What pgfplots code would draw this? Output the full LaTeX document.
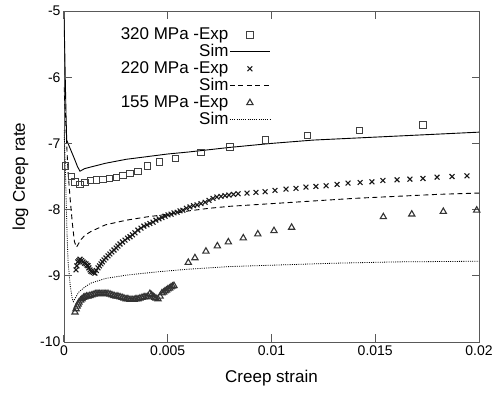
\documentclass[border=0pt]{standalone}
\usepackage{fontspec}
\setmainfont{Liberation Sans}
\usepackage{pgfplots}
\pgfplotsset{compat=1.18}
\begin{document}
\begin{tikzpicture}
\begin{axis}[
  scale only axis, width=415pt, height=331pt,
  xmin=0, xmax=0.02, ymin=-10, ymax=-5,
  scaled x ticks=false,
  xtick={0,0.005,0.01,0.015,0.02},
  xticklabels={0,0.005,0.01,0.015,0.02},
  ytick={-10,-9,-8,-7,-6,-5},
  yticklabels={-10,-9,-8,-7,-6,-5},
  tick align=inside, xtick pos=both, ytick pos=both,
  major tick length=7.5pt,
  axis line style={black!65, line width=0.8pt},
  every tick/.style={black!65, line width=1pt},
  ticklabel style={font=\fontsize{14}{14}\selectfont},
  xlabel={Creep strain}, ylabel={log Creep rate},
  label style={font=\fontsize{17}{17}\selectfont},
  xlabel style={yshift=-8pt},
  ylabel style={yshift=5pt},
  legend plot pos=right,
  legend image code/.code={\draw[mark repeat=2,mark phase=2,#1] plot coordinates {(0pt,0pt)(20pt,0pt)(40pt,0pt)};},
  legend style={at={(0.505,0.962)}, anchor=north east, draw=none, fill=none,
    font=\fontsize{17}{17}\selectfont, row sep=-1pt,
    nodes={inner sep=1pt, text height=12.5pt, text depth=3.5pt},
    cells={anchor=east}},
]
\addplot[only marks, mark=square, mark size=3.2pt, mark options={draw=black!75, line width=0.8pt}] coordinates {
(0.00006,-7.34)(0.00035,-7.50)(0.00052,-7.58)(0.00076,-7.62)(0.00100,-7.59)(0.00127,-7.56)(0.00156,-7.55)(0.00188,-7.54)(0.00220,-7.53)(0.00252,-7.51)(0.00284,-7.48)(0.00317,-7.45)(0.00357,-7.42)(0.00401,-7.34)(0.00461,-7.28)(0.00536,-7.23)(0.00659,-7.14)(0.00800,-7.05)(0.00972,-6.95)(0.01174,-6.88)(0.01423,-6.80)(0.01729,-6.72)};
\addlegendentry{320 MPa -Exp}
\addplot[black, line width=0.9pt] coordinates {
(0,-5.1)(0.00003,-5.5)(0.00006,-6.0)(0.0001,-6.6)(0.00013,-6.95)(0.0003,-7.08)(0.0005,-7.23)(0.00065,-7.35)(0.00077,-7.42)(0.001,-7.38)(0.002,-7.30)(0.003,-7.24)(0.004,-7.20)(0.005,-7.16)(0.006,-7.13)(0.008,-7.06)(0.01,-7.00)(0.012,-6.95)(0.014,-6.92)(0.016,-6.89)(0.018,-6.86)(0.02,-6.83)};
\addlegendentry{Sim}
\addplot[only marks, mark=x, mark size=3.4pt, mark options={draw=black!90, line width=1.1pt}] coordinates {
(0.00058,-8.91)(0.00062,-8.85)(0.00067,-8.79)(0.00072,-8.77)(0.00077,-8.75)(0.00085,-8.77)(0.00092,-8.79)(0.00099,-8.81)(0.00106,-8.82)(0.00111,-8.84)(0.00116,-8.85)(0.00120,-8.88)(0.00125,-8.91)(0.00130,-8.93)(0.00135,-8.94)(0.00142,-8.95)(0.00149,-8.96)(0.00156,-8.92)(0.00164,-8.88)(0.00171,-8.85)(0.00178,-8.82)(0.00185,-8.79)(0.00193,-8.76)(0.00202,-8.73)(0.00212,-8.70)(0.00221,-8.67)(0.00231,-8.64)(0.00241,-8.61)(0.00251,-8.58)(0.00260,-8.55)(0.00270,-8.52)(0.00282,-8.49)(0.00294,-8.46)(0.00306,-8.43)(0.00318,-8.41)(0.00330,-8.38)(0.00342,-8.35)(0.00356,-8.31)(0.00371,-8.28)(0.00385,-8.25)(0.00400,-8.23)(0.00414,-8.21)(0.00429,-8.19)(0.00443,-8.16)(0.00458,-8.14)(0.00472,-8.12)(0.00487,-8.10)(0.00501,-8.08)(0.00516,-8.07)(0.00530,-8.05)(0.00545,-8.04)(0.00559,-8.02)(0.00573,-8.01)(0.00590,-7.98)(0.00607,-7.96)(0.00624,-7.94)(0.00641,-7.93)(0.00660,-7.91)(0.00680,-7.89)(0.00699,-7.86)(0.00718,-7.83)(0.00737,-7.81)(0.00757,-7.80)(0.00776,-7.79)(0.00795,-7.78)(0.00817,-7.77)(0.00839,-7.76)(0.00882,-7.75)(0.00925,-7.74)(0.00969,-7.73)(0.01017,-7.71)(0.01070,-7.69)(0.01118,-7.68)(0.01166,-7.66)(0.01214,-7.65)(0.01263,-7.64)(0.01316,-7.62)(0.01369,-7.60)(0.01427,-7.59)(0.01484,-7.58)(0.01537,-7.56)(0.01605,-7.55)(0.01667,-7.54)(0.01730,-7.53)(0.01798,-7.51)(0.01870,-7.50)(0.01942,-7.49)};
\addlegendentry{220 MPa -Exp}
\addplot[black, line width=0.9pt, dash pattern=on 5pt off 3.5pt] coordinates {
(0,-6.15)(0.00005,-6.45)(0.0001,-6.8)(0.00015,-7.15)(0.0002,-7.45)(0.0003,-7.85)(0.0004,-8.2)(0.0005,-8.48)(0.0006,-8.57)(0.0008,-8.46)(0.001,-8.39)(0.0013,-8.33)(0.002,-8.23)(0.003,-8.16)(0.004,-8.11)(0.005,-8.07)(0.006,-8.02)(0.007,-7.98)(0.008,-7.95)(0.01,-7.91)(0.012,-7.87)(0.014,-7.83)(0.016,-7.80)(0.018,-7.77)(0.02,-7.75)};
\addlegendentry{Sim}
\addplot[only marks, mark=triangle, mark size=3.6pt, mark options={draw=black!80, line width=1.1pt}] coordinates {
(0.00053,-9.55)(0.00058,-9.50)(0.00063,-9.46)(0.00068,-9.43)(0.00072,-9.40)(0.00080,-9.37)(0.00087,-9.35)(0.00094,-9.33)(0.00101,-9.32)(0.00109,-9.31)(0.00116,-9.31)(0.00125,-9.30)(0.00135,-9.29)(0.00145,-9.28)(0.00154,-9.27)(0.00164,-9.27)(0.00173,-9.27)(0.00183,-9.27)(0.00193,-9.27)(0.00202,-9.27)(0.00212,-9.27)(0.00222,-9.28)(0.00231,-9.29)(0.00241,-9.30)(0.00251,-9.31)(0.00260,-9.31)(0.00270,-9.32)(0.00280,-9.33)(0.00289,-9.34)(0.00299,-9.35)(0.00308,-9.35)(0.00318,-9.36)(0.00328,-9.36)(0.00338,-9.36)(0.00347,-9.35)(0.00357,-9.35)(0.00366,-9.34)(0.00376,-9.33)(0.00386,-9.32)(0.00395,-9.32)(0.00405,-9.31)(0.00414,-9.27)(0.00422,-9.29)(0.00429,-9.31)(0.00436,-9.33)(0.00443,-9.34)(0.00453,-9.35)(0.00463,-9.31)(0.00472,-9.26)(0.00480,-9.25)(0.00487,-9.23)(0.00494,-9.22)(0.00501,-9.20)(0.00509,-9.19)(0.00516,-9.17)(0.00523,-9.16)(0.00530,-9.15)
(0.00599,-8.80)(0.00631,-8.73)(0.00684,-8.63)(0.00739,-8.55)(0.00792,-8.49)(0.00864,-8.43)(0.00934,-8.37)(0.01012,-8.32)(0.01097,-8.27)(0.01539,-8.11)(0.01676,-8.07)(0.01828,-8.03)(0.01989,-8.01)};
\addlegendentry{155 MPa -Exp}
\addplot[black, line width=0.8pt, dash pattern=on 1pt off 1.2pt] coordinates {
(0,-6.8)(0.00005,-7.2)(0.0001,-7.8)(0.00015,-8.4)(0.0002,-8.8)(0.0003,-9.15)(0.0004,-9.35)(0.00045,-9.39)(0.0005,-9.36)(0.0007,-9.25)(0.001,-9.17)(0.0013,-9.11)(0.002,-9.04)(0.003,-8.99)(0.0045,-8.94)(0.006,-8.90)(0.008,-8.86)(0.01,-8.84)(0.013,-8.81)(0.016,-8.79)(0.02,-8.78)};
\addlegendentry{Sim}
\pgfplotsinvokeforeach{0.005,0.01,0.015}{
  \draw[black!65, line width=1pt, solid] (axis cs:#1,-10) -- (axis cs:#1,-9.885);
  \draw[black!65, line width=1pt, solid] (axis cs:#1,-5) -- (axis cs:#1,-5.115);
}
\pgfplotsinvokeforeach{-9,-8,-7,-6}{
  \draw[black!65, line width=1pt, solid] (axis cs:0,#1) -- (axis cs:0.00036,#1);
  \draw[black!65, line width=1pt, solid] (axis cs:0.02,#1) -- (axis cs:0.01964,#1);
}
\end{axis}
\pgfresetboundingbox
\path[use as bounding box] (-64pt,-52pt) rectangle (432pt,342pt);
\end{tikzpicture}
\end{document}
